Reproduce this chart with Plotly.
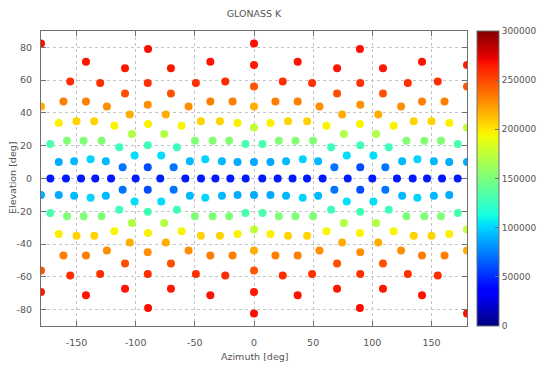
import plotly.graph_objects as go

# ---------------- data ----------------
# Northern hemisphere points (grouped by elevation band, same order in all three lists)
north_az = [
    -180, -89.5, 0, 89.5,
    -142, -109, -70.2, -36.9, 0, 36.9, 70.2, 109, 142, 180,
    -155.3, -130, -89.8, -49.1, -24.3, 0, 24.3, 49.1, 89.8, 130, 155.3, 180,
    -109, -70.2, 70.2, 109,
    -180, -161, -142, -124.3, -89.8, -55.3, -36.9, -18.1, 0, 18.1, 36.9, 55.3, 89.8, 124.3, 142, 161,
    -105, -74.5, 74.5, 105,
    -165, -150, -135, -118, -89.5, -61.2, -44.9, -28.8, -13.9, 0, 13.9, 28.8, 44.9, 61.2, 89.5, 118, 135, 150, 165, 180,
    -103.2, -75.9, 75.9, 103.2,
    -172.2, -158, -144, -128.8, -113.9, -89.8, -65.2, -49.9, -35, -21, -7.2, 7.2, 21, 35, 49.9, 65.2, 89.8, 113.9, 128.8, 144, 158, 172.2,
    -100.9, -78.4, 78.4, 100.9,
    -165, -152, -138.1, -125.2, -111, -89.8, -67.9, -54.2, -41.2, -27.1, -13.9, 0, 13.9, 27.1, 41.2, 54.2, 67.9, 89.8, 111, 125.2, 138.1, 152, 165, 180,
]
north_el = [
    82.4, 79, 82.4, 79,
    71.3, 67.2, 67.2, 71.3, 69.2, 71.3, 67.2, 67.2, 71.3, 69.2,
    59.2, 58.2, 58.2, 58.2, 59.2, 56.2, 59.2, 58.2, 58.2, 58.2, 59.2, 56.2,
    51.9, 51.9, 51.9, 51.9,
    44, 47, 47, 44, 45, 44, 47, 47, 44, 47, 47, 44, 45, 44, 47, 47,
    39.1, 39.1, 39.1, 39.1,
    33.8, 35, 35, 32.2, 33.2, 32.2, 35, 35, 33.8, 31.1, 33.8, 35, 35, 32.2, 33.2, 32.2, 35, 35, 33.8, 31.1,
    27.1, 27.1, 27.1, 27.1,
    21, 23, 23, 23, 19.1, 20.3, 19.1, 23, 23, 23, 21, 21, 23, 23, 23, 19.1, 20.3, 19.1, 23, 23, 23, 21,
    14, 14, 14, 14,
    10, 10.6, 11.8, 10.6, 6.9, 6.9, 6.9, 10.6, 11.8, 10.6, 10, 10, 10, 10.6, 11.8, 10.6, 6.9, 6.9, 6.9, 10.6, 11.8, 10.6, 10, 10,
]
north_val = [
    268000, 268000, 268000, 268000,
    267000, 266000, 266000, 267000, 265000, 267000, 266000, 266000, 267000, 265000,
    259000, 258000, 258000, 258000, 259000, 246000, 259000, 258000, 258000, 258000, 259000, 246000,
    248000, 248000, 248000, 248000,
    218000, 233000, 233000, 228000, 228000, 228000, 233000, 233000, 218000, 233000, 233000, 228000, 228000, 228000, 233000, 233000,
    218000, 218000, 218000, 218000,
    197000, 206000, 206000, 195000, 196000, 195000, 206000, 206000, 197000, 175000, 197000, 206000, 206000, 195000, 196000, 195000, 206000, 206000, 197000, 175000,
    170000, 170000, 170000, 170000,
    132000, 152000, 152000, 152000, 127000, 128000, 127000, 152000, 152000, 152000, 132000, 132000, 152000, 152000, 152000, 127000, 128000, 127000, 152000, 152000, 152000, 132000,
    103000, 103000, 103000, 103000,
    88000, 92000, 100000, 92000, 72000, 60000, 72000, 92000, 100000, 92000, 88000, 88000, 88000, 92000, 100000, 92000, 72000, 60000, 72000, 92000, 100000, 92000, 88000, 88000,
]

# Equator points
equator_az = [-172.1, -158.9, -146.2, -134.1, -120.8, -100, -79.2, -58, -44.8, -32.6, -20, -7,
              7, 20, 32.6, 44.8, 58, 79.2, 100, 120.8, 134.1, 146.2, 158.9, 172.1]
equator_el = [0] * 24
equator_val = [45000, 45000, 45000, 45000, 45000, 46000, 46000, 45000, 45000, 45000, 45000, 45000,
               45000, 45000, 45000, 45000, 45000, 46000, 46000, 45000, 45000, 45000, 45000, 45000]

# Southern hemisphere points
south_az = [
    -89.5, 0, 89.5, 180,
    -180, -142, -109, -70.2, -36.9, 0, 36.9, 70.2, 109, 142,
    -180, -155.3, -130, -89.8, -49.1, -24.3, 0, 24.3, 49.1, 89.8, 130, 155.3,
    -109, -70.2, 70.2, 109,
    -161, -142, -124.3, -89.8, -55.3, -36.9, -18.1, 0, 18.1, 36.9, 55.3, 89.8, 124.3, 142, 161, 180,
    -105, -74.5, 74.5, 105,
    -165, -150, -135, -118, -89.5, -61.2, -44.9, -28.8, -13.9, 0, 13.9, 28.8, 44.9, 61.2, 89.5, 118, 135, 150, 165, 180,
    -103.2, -75.9, 75.9, 103.2,
    -172.2, -158, -144, -128.8, -113.9, -89.8, -65.2, -49.9, -35, -21, -7.2, 7.2, 21, 35, 49.9, 65.2, 89.8, 113.9, 128.8, 144, 158, 172.2,
    -100.9, -78.4, 78.4, 100.9,
    -180, -165, -152, -138.1, -125.2, -111, -89.8, -67.9, -54.2, -41.2, -27.1, -13.9, 0, 13.9, 27.1, 41.2, 54.2, 67.9, 89.8, 111, 125.2, 138.1, 152, 165,
]
south_el = [
    -79, -82.4, -79, -82.4,
    -69.2, -71.3, -67.2, -67.2, -71.3, -69.2, -71.3, -67.2, -67.2, -71.3,
    -56.2, -59.2, -58.2, -58.2, -58.2, -59.2, -56.2, -59.2, -58.2, -58.2, -58.2, -59.2,
    -51.9, -51.9, -51.9, -51.9,
    -47, -47, -44, -45, -44, -47, -47, -44, -47, -47, -44, -45, -44, -47, -47, -44,
    -39.1, -39.1, -39.1, -39.1,
    -33.8, -35, -35, -32.2, -33.2, -32.2, -35, -35, -33.8, -31.1, -33.8, -35, -35, -32.2, -33.2, -32.2, -35, -35, -33.8, -31.1,
    -27.1, -27.1, -27.1, -27.1,
    -21, -23, -23, -23, -19.1, -20.3, -19.1, -23, -23, -23, -21, -21, -23, -23, -23, -19.1, -20.3, -19.1, -23, -23, -23, -21,
    -14, -14, -14, -14,
    -10, -10, -10.6, -11.8, -10.6, -6.9, -6.9, -6.9, -10.6, -11.8, -10.6, -10, -10, -10, -10.6, -11.8, -10.6, -6.9, -6.9, -6.9, -10.6, -11.8, -10.6, -10,
]
south_val = [
    268000, 268000, 268000, 268000,
    265000, 267000, 266000, 266000, 267000, 265000, 267000, 266000, 266000, 267000,
    246000, 259000, 258000, 258000, 258000, 259000, 246000, 259000, 258000, 258000, 258000, 259000,
    248000, 248000, 248000, 248000,
    233000, 233000, 228000, 228000, 228000, 233000, 233000, 218000, 233000, 233000, 228000, 228000, 228000, 233000, 233000, 218000,
    218000, 218000, 218000, 218000,
    197000, 206000, 206000, 195000, 196000, 195000, 206000, 206000, 197000, 175000, 197000, 206000, 206000, 195000, 196000, 195000, 206000, 206000, 197000, 175000,
    170000, 170000, 170000, 170000,
    132000, 152000, 152000, 152000, 127000, 128000, 127000, 152000, 152000, 152000, 132000, 132000, 152000, 152000, 152000, 127000, 128000, 127000, 152000, 152000, 152000, 132000,
    103000, 103000, 103000, 103000,
    88000, 88000, 92000, 100000, 92000, 72000, 60000, 72000, 92000, 100000, 92000, 88000, 88000, 88000, 92000, 100000, 92000, 72000, 60000, 72000, 92000, 100000, 92000, 88000,
]

x_ticks = [-150, -100, -50, 0, 50, 100, 150]
y_ticks = [-80, -60, -40, -20, 0, 20, 40, 60, 80]
cb_ticks = [0, 50000, 100000, 150000, 200000, 250000, 300000]

# ---------------- jet colour scale ----------------
_r = [(0, 0), (0.35, 0), (0.66, 1), (0.89, 1), (1, 0.5)]
_g = [(0, 0), (0.125, 0), (0.375, 1), (0.64, 1), (0.91, 0), (1, 0)]
_b = [(0, 0.5), (0.11, 1), (0.34, 1), (0.65, 0), (1, 0)]


def _interp(seg, t):
    for (t0, v0), (t1, v1) in zip(seg[:-1], seg[1:]):
        if t0 <= t <= t1:
            return v0 + (v1 - v0) * (t - t0) / (t1 - t0)
    return seg[-1][1]


_stops = sorted(set([p[0] for p in _r + _g + _b]))
jet = [[t, "rgb(%d,%d,%d)" % (round(255 * _interp(_r, t)), round(255 * _interp(_g, t)),
                             round(255 * _interp(_b, t)))] for t in _stops]

az = north_az + equator_az + south_az
el = north_el + equator_el + south_el
val = north_val + equator_val + south_val

FONT = "DejaVu Sans"
TXT = "#555555"
LINE = "#707070"

fig = go.Figure(go.Scatter(
    x=az, y=el, mode="markers",
    marker=dict(size=8, color=val, colorscale=jet, cmin=0, cmax=300000,
                line=dict(width=0),
                colorbar=dict(
                    x=1.0235, xanchor="left", y=0.5, yanchor="middle",
                    len=1, lenmode="fraction", thickness=22, thicknessmode="pixels",
                    outlinecolor=LINE, outlinewidth=1,
                    tickvals=cb_ticks, ticktext=[str(v) for v in cb_ticks],
                    ticks="inside", ticklen=4, tickcolor=LINE,
                    tickfont=dict(family=FONT, size=9, color=TXT),
                    ypad=0, xpad=0,
                )),
    hoverinfo="skip", showlegend=False,
))

axis_common = dict(
    showline=True, linecolor=LINE, linewidth=1, mirror="ticks",
    ticks="inside", ticklen=5, tickcolor=LINE,
    showgrid=True, gridcolor="#c4c4c4", griddash="dot", gridwidth=1,
    zeroline=False,
    tickfont=dict(family=FONT, size=9.5, color=TXT),
)

fig.update_layout(
    width=542, height=365,
    margin=dict(l=41, r=75, t=31, b=39, pad=0, autoexpand=False),
    paper_bgcolor="white", plot_bgcolor="white",
    title=dict(text="GLONASS K", x=(254 / 542), xanchor="center", y=1 - 14 / 365, yanchor="middle",
               font=dict(family=FONT, size=9.5, color=TXT)),
    xaxis=dict(range=[-180, 180], tickvals=x_ticks, ticktext=[str(v) for v in x_ticks],
               ticklabelstandoff=8, automargin=False, **axis_common),
    yaxis=dict(range=[-90, 90], tickvals=y_ticks, ticktext=[str(v) for v in y_ticks],
               ticklabelstandoff=6, automargin=False, **axis_common),
    annotations=[
        dict(text="Azimuth [deg]", xref="paper", yref="paper", x=0.5, y=-(357 - 326) / 295,
             xanchor="center", yanchor="middle", showarrow=False,
             font=dict(family=FONT, size=9.5, color=TXT)),
        dict(text="Elevation [deg]", xref="paper", yref="paper", x=-(41 - 12.5) / 426, y=0.5,
             xanchor="center", yanchor="middle", textangle=-90, showarrow=False,
             font=dict(family=FONT, size=9.5, color=TXT)),
    ],
)

fig.write_html("out.html")
